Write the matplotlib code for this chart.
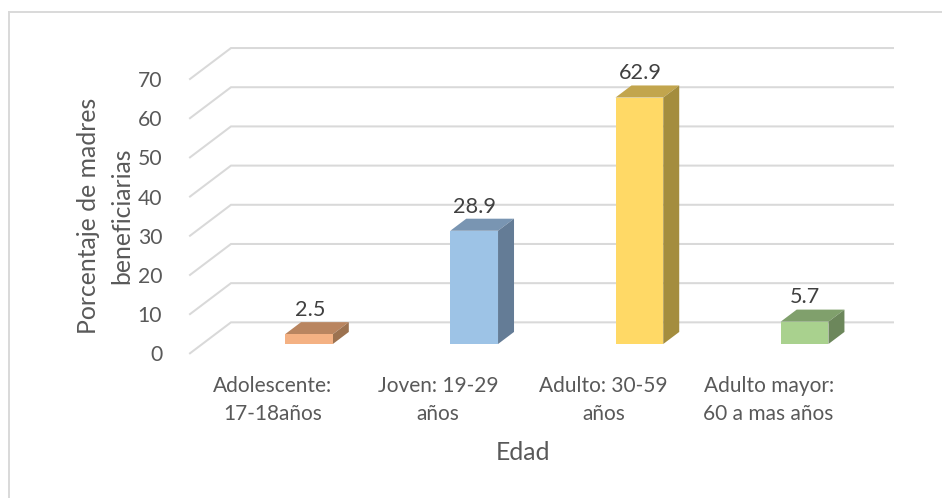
import matplotlib
matplotlib.use("Agg")
import matplotlib.pyplot as plt
from matplotlib.patches import Polygon
from matplotlib.lines import Line2D

categories = ["Adolescente:\n17-18años", "Joven: 19-29\naños", "Adulto: 30-59\naños", "Adulto mayor:\n60 a mas años"]
values = [2.5, 28.9, 62.9, 5.7]
labels = ["2.5", "28.9", "62.9", "5.7"]
yticks = [0, 10, 20, 30, 40, 50, 60, 70]
front_colors = ["#F4B183", "#9DC3E6", "#FFD966", "#A9D18E"]
top_colors = ["#B98560", "#7995B2", "#C2A54D", "#80A06C"]
side_colors = ["#9C7250", "#647C96", "#A48D3E", "#6C875B"]

W, H = 942, 498
plt.rcParams["font.family"] = ["Lato", "DejaVu Sans"]
fig = plt.figure(figsize=(W / 100, H / 100), dpi=100)

# axes box = front plane of the chart floor/wall
L, R, B, T = 190, 852, 353.3, 79
ax = fig.add_axes([L / W, 1 - B / H, (R - L) / W, (B - T) / H])
ax.set_xlim(-0.72, 3.287)
ax.set_ylim(0, 70)
for s in ax.spines.values():
    s.set_visible(False)

dx, dy = 0.248, 7.9      # full depth of the floor in data units
grid = "#D9D9D9"
for v in yticks:
    ax.plot([-0.72, -0.72 + dx, 3.287 + dx], [v, v + dy, v + dy], color=grid, lw=1.45,
            clip_on=False, zorder=1, solid_joinstyle="miter")

half = 0.1445
d0, d1 = 0.30, 0.69
for i, v in enumerate(values):
    x0 = i - half
    x1 = i + half
    y0 = d0 * dy
    bx = (d1 - d0) * dx
    by = (d1 - d0) * dy
    top = y0 + v
    ax.add_patch(Polygon([(x0, top), (x1, top), (x1 + bx, top + by), (x0 + bx, top + by)],
                         fc=top_colors[i], ec="none", clip_on=False, zorder=3))
    ax.add_patch(Polygon([(x1, y0), (x1 + bx, y0 + by), (x1 + bx, top + by), (x1, top)],
                         fc=side_colors[i], ec="none", clip_on=False, zorder=3))
    ax.add_patch(Polygon([(x0, y0), (x1, y0), (x1, top), (x0, top)],
                         fc=front_colors[i], ec="none", clip_on=False, zorder=4))
    ax.text(i + 0.005, top + by + 3.6, labels[i], ha="center", va="center_baseline",
            fontsize=15.6, color="#404040", zorder=5)

ax.set_yticks(yticks)
ax.set_xticks([i - 0.218 for i in range(len(categories))])
ax.set_xticklabels(categories, linespacing=1.56)
ax.tick_params(length=0, labelcolor="#595959")
ax.tick_params(axis="y", pad=20, labelsize=15.2)
ax.tick_params(axis="x", pad=16, labelsize=15.0)
for t in ax.get_yticklabels():
    t.set_va("center_baseline")
ax.set_xlabel("Edad", fontsize=17.8, color="#595959")
ax.xaxis.set_label_coords((523 - L) / (R - L), (B - 452) / (B - T), transform=ax.transAxes)
ax.xaxis.label.set_va("center")
ax.set_ylabel("Porcentaje de madres\nbeneficiarias", fontsize=17.8, color="#595959", linespacing=1.55)
ax.yaxis.set_label_coords((105 - L) / (R - L), (B - 216) / (B - T), transform=ax.transAxes)
ax.yaxis.label.set_va("center")

# chart frame (only top and left edges are inside the picture)
fig.add_artist(Line2D([9 / W, 9 / W], [0, 1 - 12 / H], color="#D9D9D9", lw=1.4))
fig.add_artist(Line2D([9 / W, 1], [1 - 12 / H, 1 - 12 / H], color="#D9D9D9", lw=1.4))

fig.savefig("out.png", dpi=100)
